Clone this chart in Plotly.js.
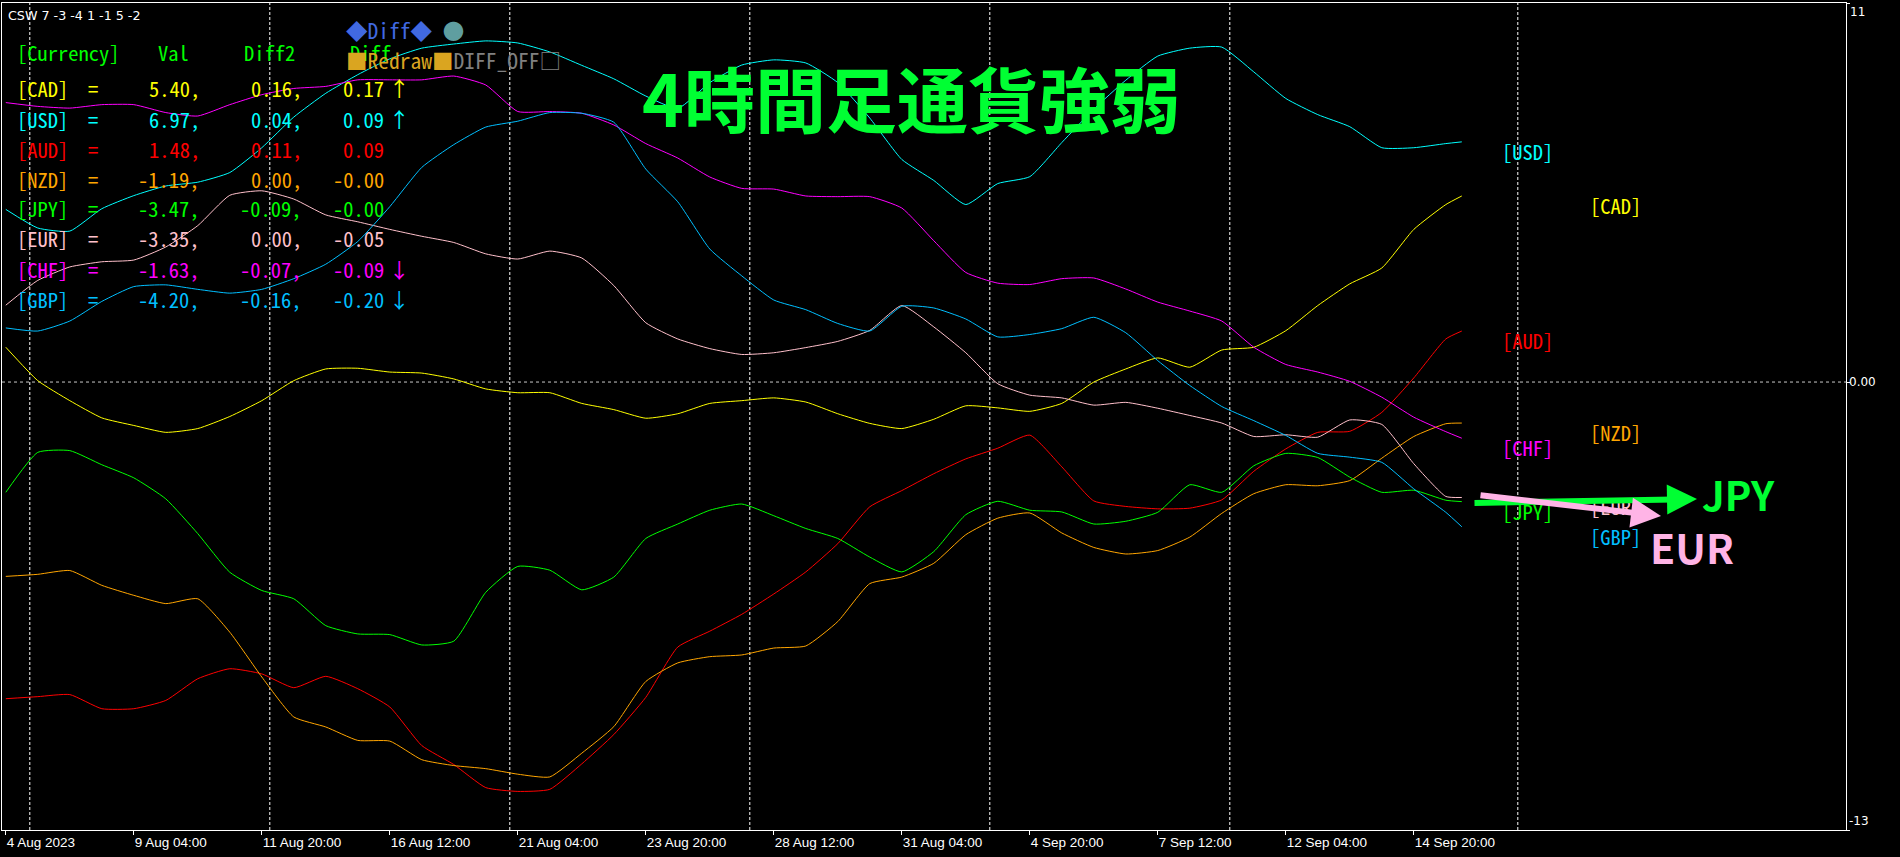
<!DOCTYPE html>
<html><head><meta charset="utf-8">
<script src="https://cdn.plot.ly/plotly-3.0.1.min.js"></script>
<style>html,body{margin:0;padding:0;background:#000;overflow:hidden}#chart{width:1900px;height:857px}</style>
</head><body><div id="chart"></div>
<script>
// ---- data (bar index on the H4 chart; one sample every 4 bars) ----
const bars = [0,4,8,12,16,20,24,28,32,36,40,44,48,52,56,60,64,68,72,76,80,84,88,92,96,100,104,108,112,116,120,124,128,132,136,140,144,148,152,156,160,164,168,172,176,180,182];

const CAD = [1.01,0.04,-0.54,-1.04,-1.26,-1.46,-1.35,-1.00,-0.54,0.04,0.38,0.40,0.29,0.26,0.09,-0.20,-0.31,-0.31,-0.62,-0.80,-1.05,-0.92,-0.62,-0.54,-0.46,-0.58,-0.92,-1.20,-1.35,-1.08,-0.69,-0.75,-0.85,-0.62,0.00,0.38,0.70,0.43,0.93,1.01,1.49,2.22,2.85,3.31,4.43,5.15,5.40];
const USD = [5.01,4.47,4.38,5.03,5.41,5.69,5.80,6.08,6.80,7.69,8.38,8.92,9.38,9.69,9.81,9.90,9.84,9.58,9.19,8.80,8.30,7.94,8.69,9.20,9.35,9.26,8.69,7.66,6.46,5.85,5.15,5.76,5.96,6.95,7.92,8.76,9.46,9.69,9.72,9.00,8.23,7.76,7.41,6.80,6.80,6.92,6.97];
const AUD = [-9.19,-9.13,-9.07,-9.48,-9.48,-9.24,-8.61,-8.32,-8.47,-8.87,-8.54,-8.90,-9.43,-10.55,-11.10,-11.77,-11.88,-11.82,-11.08,-10.23,-9.15,-7.69,-7.23,-6.74,-6.15,-5.51,-4.69,-3.62,-3.15,-2.66,-2.23,-1.92,-1.54,-2.46,-3.45,-3.61,-3.68,-3.66,-3.42,-2.59,-1.94,-1.46,-1.43,-0.88,0.12,1.25,1.48];
const NZD = [-5.64,-5.58,-5.47,-5.90,-6.19,-6.43,-6.29,-7.26,-8.56,-9.72,-10.01,-10.40,-10.42,-10.96,-11.13,-11.22,-11.38,-11.46,-10.77,-10.00,-8.69,-8.15,-7.97,-7.92,-7.72,-7.66,-6.95,-5.85,-5.66,-5.26,-4.43,-3.95,-3.80,-4.38,-4.80,-4.99,-4.89,-4.50,-3.81,-3.24,-2.98,-3.01,-2.86,-2.21,-1.58,-1.21,-1.19];
const JPY = [-3.20,-2.04,-1.99,-2.40,-2.78,-3.39,-4.40,-5.52,-6.05,-6.29,-7.07,-7.31,-7.33,-7.63,-7.52,-6.10,-5.35,-5.46,-6.03,-5.66,-4.54,-4.12,-3.72,-3.54,-3.88,-4.25,-4.54,-5.08,-5.51,-4.92,-3.85,-3.46,-3.72,-3.77,-4.12,-4.04,-3.78,-2.98,-3.20,-2.43,-2.07,-2.19,-2.76,-3.20,-3.14,-3.43,-3.47];
const EUR = [2.23,2.95,3.34,3.49,3.54,3.92,4.54,5.42,5.55,5.31,4.85,4.65,4.43,4.23,4.05,3.72,3.57,3.80,3.60,2.80,1.72,1.25,0.97,0.80,0.85,1.00,1.18,1.50,2.22,1.60,0.85,-0.05,-0.38,-0.46,-0.67,-0.59,-0.76,-0.97,-1.19,-1.58,-1.53,-1.60,-1.10,-1.23,-2.37,-3.32,-3.35];
const CHF = [8.11,8.00,7.95,8.05,8.05,7.82,7.72,8.05,8.34,8.52,8.58,8.77,8.77,8.77,8.88,8.62,7.85,7.85,7.80,7.46,6.92,6.50,5.95,5.62,5.60,5.40,5.38,5.38,5.05,4.10,3.18,2.87,2.83,3.00,3.02,2.70,2.32,2.06,1.77,1.01,0.51,0.29,0.02,-0.44,-1.02,-1.44,-1.63];
const GBP = [1.57,1.48,1.77,2.34,2.77,2.82,2.69,2.58,2.69,3.00,3.42,4.08,5.09,6.23,6.89,7.40,7.57,7.82,7.80,7.54,6.18,5.23,3.86,3.08,2.38,2.10,1.70,1.48,2.20,2.15,1.83,1.31,1.38,1.55,1.88,1.43,0.62,-0.10,-0.71,-1.12,-1.55,-2.07,-2.18,-2.33,-3.10,-3.78,-4.20];

const currencies = ['CAD','USD','AUD','NZD','JPY','EUR','CHF','GBP'];
const diff2Text = ['0.16','0.04','0.11','0.00','-0.09','0.00','-0.07','-0.16'];
const diffText  = ['0.17','0.09','0.09','-0.00','-0.00','-0.05','-0.09','-0.20'];
const trendArrows = ['↑','↑','','','','','↓','↓'];

const timeTickBars = [0,16,32,48,64,80,96,112,128,144,160,176];
const timeTickLabels = ['4 Aug 2023','9 Aug 04:00','11 Aug 20:00','16 Aug 12:00','21 Aug 04:00','23 Aug 20:00','28 Aug 12:00','31 Aug 04:00','4 Sep 20:00','7 Sep 12:00','12 Sep 04:00','14 Sep 20:00'];
const weekSeparatorBars = [3,33,63,93,123,153,189];
const scaleLabels = ['11','0.00','-13'];

// ---- styling ----
const series = {CAD, USD, AUD, NZD, JPY, EUR, CHF, GBP};
const colors = {CAD:'#FFFF00', USD:'#00FFFF', AUD:'#FF0000', NZD:'#FFA500', JPY:'#00FF00', EUR:'#FFC0CB', CHF:'#FF00FF', GBP:'#00BFFF'};
const MONO = "'Noto Sans Mono CJK JP','DejaVu Sans Mono',monospace";
const FS = 20.5;          // table / label font size
const NB = '\u00a0';

// plot area in page pixels
const L = 2, T = 3, W = 1844, H = 827;
const px = x => (x - L) / W;
const py = y => (T + H - y) / H;
const YMIN = -13, YMAX = 11;
const vpx = v => T + (YMAX - v) / (YMAX - YMIN) * H;   // value -> page pixel (for label spacing only)

const traces = currencies.map(c => ({
  x: bars, y: series[c], type: 'scatter', mode: 'lines', name: c,
  line: {color: colors[c], width: 1, shape: 'spline', smoothing: 0.5},
  hoverinfo: 'skip'
}));

const annotations = [];
const txt = (o) => annotations.push(Object.assign({xref:'paper', yref:'paper', showarrow:false, borderpad:0, yanchor:'middle'}, o));
const mono = (color, size) => ({family:MONO, size: size || FS, color});

// small header
txt({x:px(7), y:py(15), xanchor:'left', text:'CSW 7 -3 -4 1 -1 5 -2', font:{family:'DejaVu Sans', size:12.7, color:'#FFFFFF'}});
// table header
txt({x:px(16), y:py(52), xanchor:'left', text:'[Currency]', font:mono('#00FF00')});
txt({x:px(157), y:py(52), xanchor:'left', text:'Val', font:mono('#00FF00')});
txt({x:px(243), y:py(52), xanchor:'left', text:'Diff2', font:mono('#00FF00')});
txt({x:px(349), y:py(52), xanchor:'left', text:'Diff', font:mono('#00FF00')});
// table rows, one annotation per cell so columns line up like the terminal table
currencies.forEach((c, k) => {
  const y = py(88.5 + 30 * k), col = colors[c];
  const last = series[c][series[c].length - 1];
  txt({x:px(16), y, xanchor:'left', text:'[' + c + ']', font:mono(col)});
  txt({x:px(93), y, xanchor:'center', text:'=', font:mono(col)});
  txt({x:px(201), y, xanchor:'right', text:last.toFixed(2) + ',', font:mono(col)});
  txt({x:px(303), y, xanchor:'right', text:diff2Text[k] + ',', font:mono(col)});
  txt({x:px(385), y, xanchor:'right', text:diffText[k], font:mono(col)});
  if (trendArrows[k]) txt({x:px(399), y, xanchor:'center', text:trendArrows[k], font:mono(col)});
});
// buttons
txt({x:px(345), y:py(29), xanchor:'left',
  text:'<span style="color:#4169E1">◆Diff◆</span>'+NB+'<span style="color:#5F9EA0">●</span>', font:mono('#4169E1', 21.5)});
txt({x:px(345), y:py(59), xanchor:'left',
  text:'<span style="color:#DAA520">■Redraw■</span><span style="color:#808080">DIFF_OFF□</span>', font:mono('#DAA520', 21.5)});
// title
txt({x:px(911), y:py(96), xanchor:'center', text:'<b>4時間足通貨強弱</b>', font:{family:"'Noto Sans CJK JP'", size:71, color:'#00FF33'}});

// right-side end labels: alternate two columns by rank, keep labels in a column at least one line apart
const lastBar = bars[bars.length - 1];
const ranked = currencies.slice().sort((a, b) => series[b][series[b].length-1] - series[a][series[a].length-1]);
const LINE = 30, BASE_SHIFT = 7;
[0, 1].forEach(colIdx => {
  const items = ranked.filter((c, r) => r % 2 === colIdx).map(c => ({c, v: series[c][series[c].length-1]}));
  items.forEach(it => { it.top = vpx(it.v) - BASE_SHIFT; });
  for (let i = items.length - 2; i >= 0; i--) {
    if (items[i + 1].top - items[i].top < LINE) items[i].top = items[i + 1].top - LINE;
  }
  items.forEach(it => {
    annotations.push({xref:'x', yref:'y', x: lastBar + (colIdx === 0 ? 4.9 : 15.9), y: it.v,
      xanchor:'left', yanchor:'top', yshift: vpx(it.v) - it.top, borderpad:0, showarrow:false,
      text:'[' + it.c + ']', font:mono(colors[it.c])});
  });
});
// scale labels
txt({x:px(1849), y:py(12), xanchor:'left', text:scaleLabels[0], font:{family:'DejaVu Sans', size:12, color:'#FFFFFF'}});
annotations.push({xref:'paper', yref:'y', x:px(1848), y:0, xanchor:'left', yanchor:'middle', borderpad:0, showarrow:false, text:scaleLabels[1], font:{family:'DejaVu Sans', size:12, color:'#FFFFFF'}});
txt({x:px(1848), y:py(821), xanchor:'left', text:scaleLabels[2], font:{family:'DejaVu Sans', size:12, color:'#FFFFFF'}});
// highlight arrows + labels
annotations.push({xref:'paper', yref:'paper', x:px(1697), y:py(499), ax:-224, ay:4, axref:'pixel', ayref:'pixel', text:'', showarrow:true,
  arrowhead:2, arrowwidth:6, arrowsize:1, arrowcolor:'#00FF33'});
annotations.push({xref:'paper', yref:'paper', x:px(1661), y:py(516), ax:-182, ay:-21, axref:'pixel', ayref:'pixel', text:'', showarrow:true,
  arrowhead:2, arrowwidth:6, arrowsize:1, arrowcolor:'#FFB4E6'});
txt({x:px(1738), y:py(494), xanchor:'center', text:'<b>JPY</b>', font:{family:"'Noto Sans CJK JP'", size:40, color:'#00FF33'}});
txt({x:px(1692), y:py(546), xanchor:'center', text:'<b>EUR</b>', font:{family:"'Noto Sans CJK JP'", size:41, color:'#FFB4E6'}});

// separators
const shapes = weekSeparatorBars.map(b => ({type:'line', xref:'x', yref:'paper', x0:b, x1:b, y0:0, y1:1,
  line:{color:'#FFFFFF', width:1, dash:'3px,2px'}, layer:'below'}));
shapes.push({type:'line', xref:'paper', yref:'y', x0:0, x1:1, y0:0, y1:0, line:{color:'#C8C8C8', width:1, dash:'3px,3px'}, layer:'below'});

const layout = {
  width:1900, height:857,
  margin:{l:L, r:1900 - L - W, t:T, b:857 - T - H, pad:0},
  paper_bgcolor:'#000000', plot_bgcolor:'#000000',
  showlegend:false,
  xaxis:{range:[-0.475, 230.025], tickmode:'array', tickvals:timeTickBars, ticktext:timeTickLabels,
    ticks:'outside', ticklen:4, tickcolor:'#FFFFFF', tickwidth:1, ticklabelposition:'outside right',
    tickfont:{family:"'Liberation Sans', Arial, sans-serif", size:13.5, color:'#FFFFFF'},
    showgrid:false, zeroline:false, showline:true, linecolor:'#FFFFFF', linewidth:1, mirror:true, fixedrange:true},
  yaxis:{range:[YMIN, YMAX], side:'right', tickmode:'array', tickvals:[11, 0, -13], ticks:'outside', ticklen:3, tickcolor:'#FFFFFF',
    showticklabels:false, showgrid:false, zeroline:false, showline:true, linecolor:'#FFFFFF', linewidth:1, mirror:true, fixedrange:true},
  annotations, shapes
};

Plotly.newPlot('chart', traces, layout, {displayModeBar:false, staticPlot:true});
</script></body></html>
